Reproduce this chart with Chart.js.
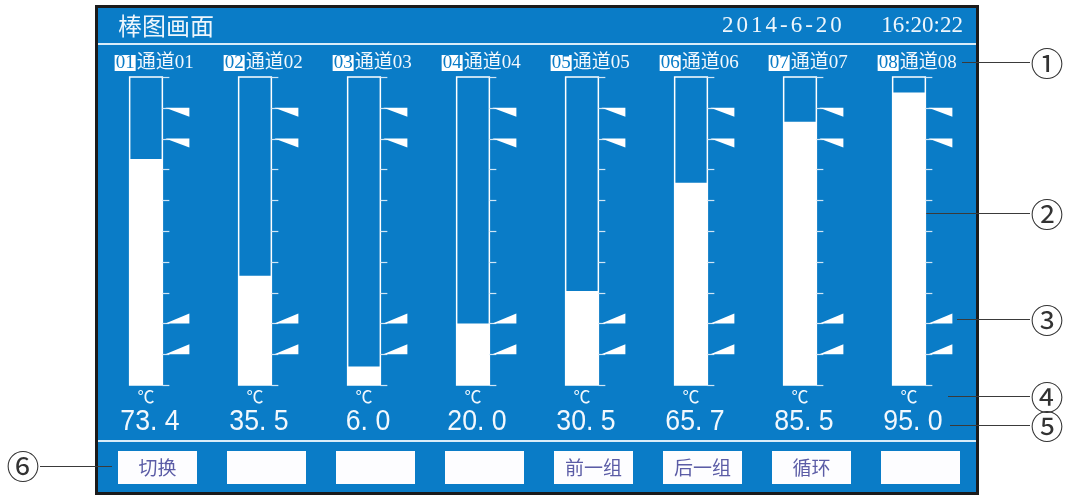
<!DOCTYPE html>
<html>
<head>
<meta charset="utf-8">
<script src="https://cdn.jsdelivr.net/npm/chart.js@4"></script>
<style>
html, body { margin: 0; padding: 0; background: #fff; }
#wrap { width: 1069px; height: 495px; }
</style>
</head>
<body>
<div id="wrap"><canvas id="barScreen"></canvas></div>
<script>
// data
const channelNos = ['01', '02', '03', '04', '05', '06', '07', '08'];
const channelNames = ['通道01', '通道02', '通道03', '通道04', '通道05', '通道06', '通道07', '通道08'];
const values = [73.4, 35.5, 6.0, 20.0, 30.5, 65.7, 85.5, 95.0];
const scaleMin = 0;
const scaleMax = 100;
const scaleStep = 10;
const highAlarms = [90, 80];
const lowAlarms = [20, 10];
const unitLabel = '℃';
const buttonLabels = ['切换', '', '', '', '前一组', '后一组', '循环', ''];
const screenTitle = '棒图画面';
const dateText = '2014-6-20';
const timeText = '16:20:22';

const BLUE = '#0a7cc7';
const TICK = '#cfe5f5';
const CJK = '"Noto Sans CJK SC"';

// screen frame, header, buttons, callouts
const screenPlugin = {
    id: 'screen',
    beforeDraw(chart) {
        const c = chart.ctx;
        c.save();
        c.fillStyle = '#fff';
        c.fillRect(0, 0, chart.width, chart.height);
        c.fillStyle = '#1b1b1b';
        c.fillRect(95, 5, 884, 490);
        c.fillStyle = BLUE;
        c.fillRect(98, 8, 878, 484);

        // separator lines
        c.fillStyle = '#d9edf9';
        c.fillRect(98, 43, 878, 2);
        c.fillRect(98, 440, 878, 2);

        // header
        c.fillStyle = '#eef6fc';
        c.textBaseline = 'middle';
        c.textAlign = 'left';
        c.font = '24px ' + CJK;
        c.fillText(screenTitle, 118, 26);
        c.font = '23px "Liberation Serif"';
        c.letterSpacing = '3px';
        c.fillText(dateText, 722, 26);
        c.letterSpacing = '0px';
        c.textAlign = 'right';
        c.fillText(timeText, 963, 26);

        // buttons
        c.textAlign = 'center';
        c.font = '19px ' + CJK;
        buttonLabels.forEach((b, i) => {
            const x = 118 + i * 109;
            c.fillStyle = '#fdfdff';
            c.fillRect(x, 451, 79, 33);
            c.fillStyle = '#5b5ca6';
            if (b) c.fillText(b, x + 39.5, 468);
        });

        // callouts outside the screen
        c.strokeStyle = '#3a3a3a';
        c.lineWidth = 1;
        const right = [[962, 62, '①'], [925, 213, '②'], [957, 319, '③'], [948, 396, '④'], [950, 425, '⑤']];
        c.font = '33px ' + CJK;
        c.fillStyle = '#333';
        right.forEach(([x0, y, s]) => {
            c.beginPath();
            c.moveTo(x0, y + 0.5);
            c.lineTo(1030, y + 0.5);
            c.stroke();
            c.fillText(s, 1047, y + 1);
        });
        c.beginPath();
        c.moveTo(40, 466.5);
        c.lineTo(112, 466.5);
        c.stroke();
        c.fillText('⑥', 23, 466);
        c.restore();
    },
    afterDatasetsDraw(chart) {
        const c = chart.ctx;
        const y = chart.scales.y;
        const meta = chart.getDatasetMeta(0);
        const yTop = y.getPixelForValue(scaleMax);
        const yBot = y.getPixelForValue(scaleMin);
        c.save();
        meta.data.forEach((bar, i) => {
            const xl = bar.x - bar.width / 2;
            const xr = bar.x + bar.width / 2;

            // bar frame
            c.strokeStyle = '#fff';
            c.lineWidth = 1.5;
            c.strokeRect(xl, yTop, xr - xl, yBot - yTop);

            // scale ticks
            c.strokeStyle = TICK;
            c.lineWidth = 1.2;
            for (let v = scaleMin; v <= scaleMax; v += scaleStep) {
                const ty = Math.round(y.getPixelForValue(v)) + 0.5;
                c.beginPath();
                c.moveTo(xr, ty);
                c.lineTo(xr + 7, ty);
                c.stroke();
            }

            // alarm markers
            c.fillStyle = '#fff';
            highAlarms.forEach(a => {
                const ay = y.getPixelForValue(a);
                c.beginPath();
                c.moveTo(xr + 3, ay);
                c.lineTo(xr + 27, ay);
                c.lineTo(xr + 27, ay + 9);
                c.closePath();
                c.fill();
            });
            lowAlarms.forEach(a => {
                const ay = y.getPixelForValue(a);
                c.beginPath();
                c.moveTo(xr + 3, ay);
                c.lineTo(xr + 27, ay);
                c.lineTo(xr + 27, ay - 10);
                c.closePath();
                c.fill();
            });

            // channel label
            c.textBaseline = 'middle';
            c.textAlign = 'left';
            c.font = '19px "Liberation Serif"';
            const lx = xl - 15;
            const nw = c.measureText(channelNos[i]).width;
            c.fillStyle = '#fff';
            c.fillRect(lx, 55, nw + 2, 16);
            c.fillStyle = BLUE;
            c.fillText(channelNos[i], lx + 1, 63.5);
            c.fillStyle = '#f2f8fd';
            c.font = '19px "Liberation Serif", ' + CJK;
            c.fillText(channelNames[i], lx + nw + 3, 63.5);

            // unit and value
            c.textAlign = 'center';
            c.font = '17px ' + CJK;
            c.fillText(unitLabel, bar.x, 397);
            c.save();
            c.translate(bar.x + 4, 422);
            c.scale(0.92, 1);
            c.font = '29px "Liberation Sans"';
            c.fillText(values[i].toFixed(1).replace('.', '. '), 0, 0);
            c.restore();
        });
        c.restore();
    }
};

new Chart(document.getElementById('barScreen').getContext('2d'), {
    type: 'bar',
    data: {
        labels: channelNos,
        datasets: [{
            label: 'value',
            data: values,
            backgroundColor: '#ffffff',
            borderWidth: 0,
            barPercentage: 0.3,
            categoryPercentage: 1
        }]
    },
    options: {
        responsive: true,
        maintainAspectRatio: false,
        animation: false,
        layout: { padding: { left: 91.5, right: 105.5, top: 77, bottom: 110 } },
        plugins: { legend: { display: false }, tooltip: { enabled: false } },
        scales: {
            x: { display: false },
            y: { display: false, min: scaleMin, max: scaleMax }
        }
    },
    plugins: [screenPlugin]
});
</script>
</body>
</html>
